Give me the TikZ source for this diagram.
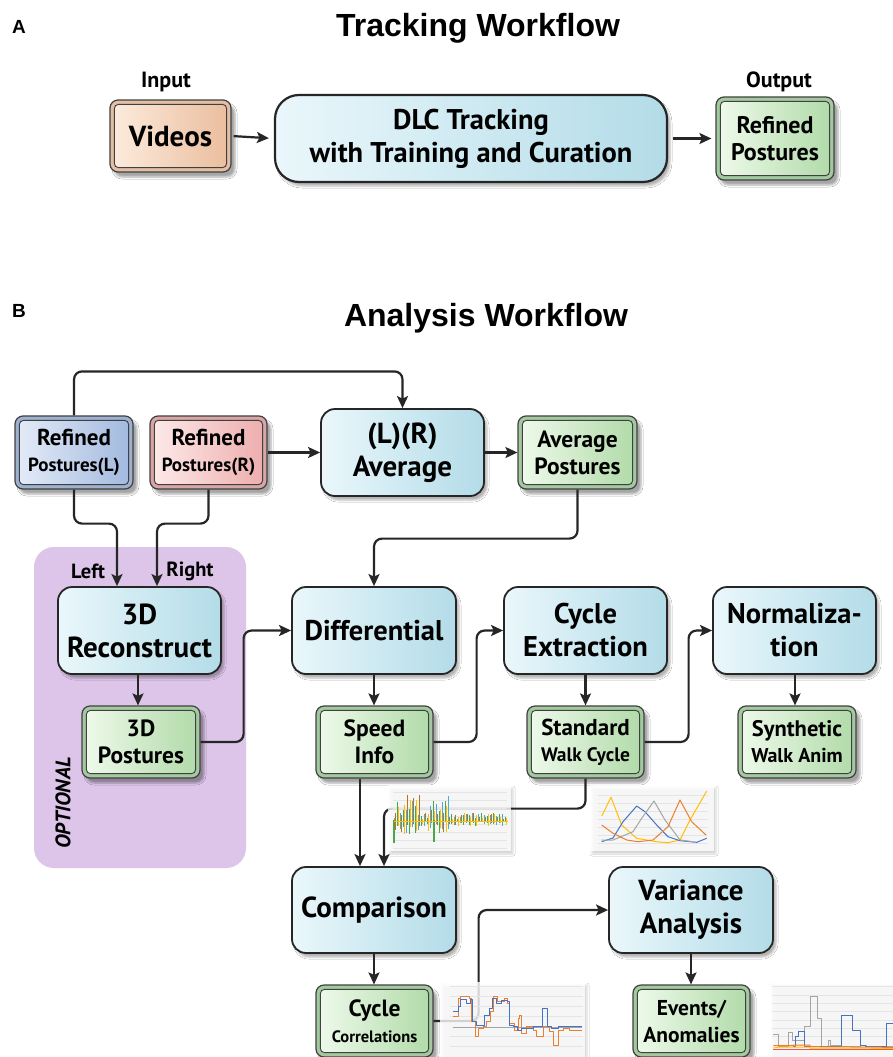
\documentclass[tikz,border=0pt]{standalone}
\usepackage{fontspec}
\setmainfont{PT Sans}
\newfontfamily\titlefont{Liberation Sans}
\usetikzlibrary{arrows.meta,shadows.blur,calc}
\definecolor{procA}{HTML}{EAF7FB}
\definecolor{procB}{HTML}{B3DCE8}
\definecolor{gOut}{HTML}{A3C99F}
\definecolor{gA}{HTML}{EDF9E9}
\definecolor{gB}{HTML}{B2DBAA}
\definecolor{bOut}{HTML}{9DB1D0}
\definecolor{bA}{HTML}{E2EAF7}
\definecolor{bB}{HTML}{A3BADF}
\definecolor{pOut}{HTML}{D9A5A5}
\definecolor{pA}{HTML}{FDE8E8}
\definecolor{pB}{HTML}{EEAEAE}
\definecolor{oOut}{HTML}{E2BEA4}
\definecolor{oA}{HTML}{FCEADC}
\definecolor{oB}{HTML}{EBBE9E}
\definecolor{optfill}{HTML}{DCC5E9}
\definecolor{cBlue}{HTML}{4472C4}
\definecolor{cOrange}{HTML}{ED7D31}
\definecolor{cGray}{HTML}{A5A5A5}
\definecolor{cYellow}{HTML}{FFC000}
\definecolor{cGreen}{HTML}{4CA64C}
\definecolor{cLBlue}{HTML}{4FA8D8}
\definecolor{cBrown}{HTML}{B8741A}
\newcommand\fsz[2]{\fontsize{#1}{#2}\selectfont}
\newcommand\dbox[7]{%
  \node[dataouter, fill=#5Out, minimum width=#3pt, minimum height=#4pt] (#1) at #2 {};
  \path[datainner, left color=#5A, right color=#5B] ([shift={(5,5)}]#1.north west) rectangle ([shift={(-5,-5)}]#1.south east);
  \node[align=center, font=#6] (#1-t) at (#1) {#7};
}
\begin{document}
\begin{tikzpicture}[x=1pt,y=-1pt,
  procbox/.style={draw=black!85, line width=1.8pt, rounded corners=14pt, left color=procA, right color=procB,
     blur shadow={shadow xshift=3pt, shadow yshift=-4pt, shadow opacity=30}, align=center, inner sep=0pt},
  dataouter/.style={draw=black!75, line width=1.2pt, rounded corners=8pt, inner sep=0pt,
     blur shadow={shadow xshift=4pt, shadow yshift=-5pt, shadow opacity=35}},
  datainner/.style={draw=black!75, line width=0.9pt, rounded corners=4pt},
  conn/.style={draw=black!85, line width=2.2pt, rounded corners=8pt},
  arr/.style={conn, -{Stealth[length=12pt,width=11pt,inset=2.5pt]}},
  lbl/.style={font=\bfseries\fsz{22}{24}},
  chartbg/.style={fill=white, fill opacity=0.8, inner sep=0pt, draw=none,
     blur shadow={shadow xshift=2pt, shadow yshift=-3pt, shadow opacity=20}},
  grid/.style={draw=black!10, line width=0.6pt},
  cl/.style={line width=1pt, line join=round}
]
\useasboundingbox (0,0) rectangle (893,1057);
\fill[white] (0,0) rectangle (893,1057);

% ---------------- Section A
\node[font=\titlefont\bfseries\fsz{19}{20}] (letA) at (19,27) {A};
\node[font=\titlefont\bfseries\fsz{32}{36}] (titleA) at (478,28) {Tracking Workflow};
\node[lbl] (lblIn) at (166,82) {Input};
\node[lbl] (lblOut) at (779,82) {Output};
\dbox{videos}{(170.5,136)}{121}{72}{o}{\bfseries\fsz{29}{32}}{Videos}
\node[procbox, rounded corners=24pt, line width=2.2pt, minimum width=392pt, minimum height=87pt,
      font=\bfseries\fsz{28.5}{33}] (dlc) at (471,138.5) {DLC Tracking\\with Training and Curation};
\dbox{refA}{(775,138.5)}{118}{83}{g}{\bfseries\fsz{24}{27}}{Refined\\Postures}
\draw[arr, shorten <=2pt, shorten >=5pt] (videos.east) -- (dlc.west);
\draw[arr, shorten <=5pt, shorten >=4pt] (dlc.east) -- (dlc.east -| refA.west);

% ---------------- Section B
\node[font=\titlefont\bfseries\fsz{19}{20}] (letB) at (19,311) {B};
\node[font=\titlefont\bfseries\fsz{32}{36}] (titleB) at (486,318) {Analysis Workflow};

\fill[optfill, rounded corners=20pt] (34,547) rectangle (246,868);
\node[font=\bfseries\itshape\fsz{21}{22}, rotate=90] (lblOpt) at (63,803) {OPTIONAL};

\dbox{refL}{(74,452.5)}{118}{73}{b}{\bfseries\fsz{19}{26}}{{\fsz{23}{26}Refined}\\Postures(L)}
\dbox{refR}{(208.5,452.5)}{117}{73}{p}{\bfseries\fsz{19}{26}}{{\fsz{23}{26}Refined}\\Postures(R)}
\node[procbox, minimum width=163pt, minimum height=87pt, font=\bfseries\fsz{29}{33}] (avg) at (402.5,452.5) {(L)(R)\\Average};
\dbox{avgP}{(577.5,452.5)}{119}{73}{g}{\bfseries\fsz{23.5}{27}}{Average\\Postures}

\node[procbox, minimum width=163pt, minimum height=87pt, font=\bfseries\fsz{29}{33}] (rec3d) at (139.5,630.5) {3D\\Reconstruct};
\dbox{p3d}{(141,742)}{118}{72}{g}{\bfseries\fsz{23.5}{27}}{3D\\Postures}
\node[lbl, font=\bfseries\fsz{20.5}{22}] (lblLeft) at (88,571) {Left};
\node[lbl, font=\bfseries\fsz{20.5}{22}] (lblRight) at (190,571) {Right};

\node[procbox, minimum width=164pt, minimum height=87pt, font=\bfseries\fsz{28.5}{33}] (diff) at (374,630.5) {Differential};
\node[procbox, minimum width=163pt, minimum height=87pt, font=\bfseries\fsz{28.5}{33}] (cyc) at (585.5,630.5) {Cycle\\Extraction};
\node[procbox, minimum width=163pt, minimum height=87pt, font=\bfseries\fsz{28.5}{33}] (norm) at (794.5,630.5) {Normaliza-\\tion};

\dbox{speed}{(374.5,742)}{117}{72}{g}{\bfseries\fsz{23.5}{27}}{Speed\\Info}
\dbox{walk}{(585.5,742)}{117}{72}{g}{\bfseries\fsz{19.5}{26}}{{\fsz{23}{26}Standard}\\Walk Cycle}
\dbox{synth}{(797,742)}{118}{72}{g}{\bfseries\fsz{20}{26}}{{\fsz{22.5}{26}Synthetic}\\Walk Anim}

\node[procbox, minimum width=164pt, minimum height=86pt, font=\bfseries\fsz{29}{33}] (comp) at (374,910) {Comparison};
\node[procbox, minimum width=164pt, minimum height=86pt, font=\bfseries\fsz{29}{33}] (var) at (691,910) {Variance\\Analysis};
\dbox{corr}{(374.5,1021)}{117}{72}{g}{\bfseries\fsz{16.5}{26}}{{\fsz{23.5}{26}Cycle}\\Correlations}
\dbox{events}{(691.5,1021)}{117}{72}{g}{\bfseries\fsz{21.5}{27}}{Events/\\Anomalies}

% connectors
\coordinate (recL) at ([xshift=-22.5pt]rec3d.north);
\coordinate (recR) at ([xshift=17.5pt]rec3d.north);
\coordinate (compL) at ([xshift=-14pt]comp.north);
\coordinate (compR) at ([xshift=10pt]comp.north);
\draw[arr] (refL.north) -- ++(0,-44) -| (avg.north);
\draw[arr] (refR.east) -- (avg.west);
\draw[arr] (avg.east) -- (avgP.west);
\draw[arr] (avgP.south) -- ++(0,49) -| (diff.north);
\draw[arr] (refL.south) -- ++(0,34) -| (recL);
\draw[arr] (refR.south) -- ++(0,34) -| (recR);
\draw[arr] ([xshift=-1.5pt]rec3d.south) -- ([xshift=-1.5pt]rec3d.south |- p3d.north);
\draw[arr] (p3d.east) -- ++(43,0) |- (diff.west);
\draw[arr] (diff.south) -- (diff.south |- speed.north);
\draw[arr] (speed.east) -- ++(43,0) |- (cyc.west);
\draw[arr] (cyc.south) -- (walk.north);
\draw[arr] (walk.east) -- ++(44,0) |- (norm.west);
\draw[arr] ([xshift=0.5pt]norm.south) -- ([xshift=0.5pt]norm.south |- synth.north);
\draw[arr] (speed.south -| compL) -- (compL);
\draw[arr] (walk.south) -- ++(0,30) -| (compR);
\draw[arr] (comp.south) -- (comp.south |- corr.north);
\draw[arr] (corr.east) -- ++(45,0) |- (var.west);
\draw[arr] (var.south) -- (var.south |- events.north);

% ---------------- charts
% chart 1
\node[chartbg, minimum width=123pt, minimum height=66pt] (chart1) at (449.5,818) {};
\foreach \yy in {792,800,...,848} \draw[grid] (393,\yy) -- (507,\yy);
\pgfmathsetseed{7}
\foreach \i in {0,...,75}{
  \pgfmathsetmacro\xx{394+1.5*\i}
  \pgfmathsetmacro\bg{((\xx>395 && \xx<422) || (\xx>428 && \xx<449)) ? 1 : 0}
  \pgfmathsetmacro\up{\bg>0.5 ? 4+rnd*23 : 1+rnd*6}
  \pgfmathsetmacro\dn{\bg>0.5 ? 2+rnd*12 : 1+rnd*5}
  \pgfmathtruncatemacro\cc{mod(\i,4)}
  \ifcase\cc \def\col{cLBlue}\or \def\col{cBrown}\or \def\col{cGreen}\or \def\col{cYellow}\fi
  \draw[color=\col, line width=0.9pt] (\xx,820-\up) -- (\xx,820+\dn);
}
\draw[cGreen, line width=1.1pt] (394,820) -- (394,843);
\draw[cGreen, line width=1.1pt] (434,820) -- (434,842);
\draw[cYellow, line width=1pt] (394,821) -- (508,821);

% chart 2
\node[chartbg, minimum width=124pt, minimum height=66pt] (chart2) at (652,818) {};
\foreach \yy in {795,803,...,845} \draw[grid] (598,\yy) -- (708,\yy);
\draw[cl, cYellow] (601.7,816) -- (611,797.3) -- (621.7,825) -- (636.7,838.3) -- (656.7,841.7) -- (668,842.7) -- (680,840) -- (690,820) -- (706.7,791);
\draw[cl, cBlue] (601.7,841.7) -- (613,838) -- (623,821.7) -- (636.7,806) -- (645,811.7) -- (656.7,825) -- (668,836.7) -- (680,840.7) -- (696.7,842.3) -- (706.7,838.3);
\draw[cl, cGray] (601.7,840) -- (613,840) -- (633,831.7) -- (641.7,818.3) -- (654,801) -- (665,820) -- (680,840) -- (693,841.7);
\draw[cl, cOrange] (601.7,825) -- (613,833.3) -- (626.7,840) -- (638,841.7) -- (653,840) -- (668,826.7) -- (680,800) -- (691.7,821.7) -- (706,835);

% chart 3
\node[chartbg, minimum width=145pt, minimum height=75pt] (chart3) at (512.5,1019.5) {};
\begin{scope}[shift={(430,975)}, x=0.3333pt, y=-0.3333pt]
  \foreach \yy in {35,65,95,125,185,215} \draw[grid] (60,\yy) -- (460,\yy);
  \draw[cGray, line width=1pt] (68,157) -- (455,157);
  \draw[cl, cOrange] (68,125) -| (85,70) -| (92,65) -| (118,70) -| (125,140) -| (135,185) -| (145,160) -| (160,155) -| (170,140) -| (180,110) -| (190,65) -| (203,80) -| (225,70) -| (232,85) -| (240,145) -| (255,165) -| (265,130) -| (270,120) -| (275,175) -| (290,155) -| (310,165) -| (320,185) -| (340,155) -| (360,170) -| (370,210) -| (385,165) -| (400,160) -| (420,165) -- (455,165);
  \draw[cl, cBlue] (68,110) -| (85,95) -| (92,72) -| (110,85) -| (120,72) -| (128,140) -| (140,150) -| (162,120) -| (178,100) -| (187,70) -| (200,85) -| (215,75) -| (232,80) -| (240,150) -| (250,155) -| (262,165) -| (275,160) -| (310,155) -| (338,100) -| (352,155) -| (365,160) -| (385,155) -- (455,155);
\end{scope}

% chart 4
\node[chartbg, minimum width=124pt, minimum height=75pt] (chart4) at (832,1019.5) {};
\begin{scope}[shift={(760,975)}, x=0.3333pt, y=-0.3333pt]
  \foreach \yy in {35,60,85,110,135,160,185} \draw[grid] (35,\yy) -- (400,\yy);
  \draw[cl, cGray] (40,178) -| (55,215) -| (85,172) -| (97,195) -| (133,155) -| (152,65) -| (172,130) -| (185,215) -| (205,195) -| (212,210) -| (240,213) -| (300,210) -| (320,215) -- (399,215);
  \draw[cl, cBlue] (100,215) -| (107,185) -| (115,170) -| (133,215) -| (245,120) -| (278,165) -| (300,210) -| (315,215) -| (380,145) -- (399,145);
  \draw[cl, cOrange] (40,212) -| (100,210) -| (150,215) -- (399,217);
  \draw[cl, cYellow] (40,219) -- (60,216) -| (150,219) -- (399,220);
  \draw[cl, red!70] (40,223) -- (399,223);
\end{scope}
\end{tikzpicture}
\end{document}
